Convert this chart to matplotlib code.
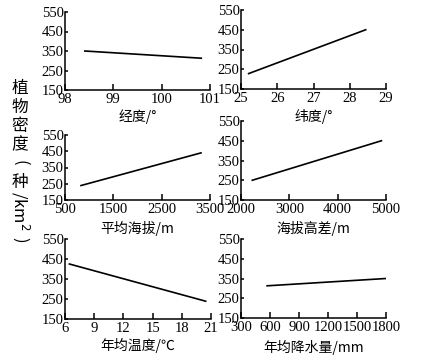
import matplotlib
matplotlib.use("Agg")
import matplotlib.pyplot as plt

W, H = 426, 357

plt.rcParams["font.family"] = ["Liberation Serif", "DejaVu Serif"]

# x/y of each fitted line (start, end)
lon_x = [98.41, 100.82]
lon_y = [350, 313]
lat_x = [25.21, 28.44]
lat_y = [228, 450]
alt_x = [831, 3314]
alt_y = [239, 440]
altdiff_x = [2234, 4905]
altdiff_y = [250, 450]
temp_x = [6.45, 20.45]
temp_y = [425, 239]
prec_x = [570, 1800]
prec_y = [313, 350]

y_ticks = [150, 250, 350, 450, 550]

panels = [
    # data x, data y, xticks, xlabel, box in pixels (left, right, top, bottom), label y px
    (lon_x, lon_y, [98, 99, 100, 101], "经度/°", (65, 210, 12, 90), 117),
    (lat_x, lat_y, [25, 26, 27, 28, 29], "纬度/°", (241, 386, 10, 89), 117),
    (alt_x, alt_y, [500, 1500, 2500, 3500], "平均海拔/m", (65, 210, 135, 200), 228),
    (altdiff_x, altdiff_y, [2000, 3000, 4000, 5000], "海拔高差/m", (241, 386, 121, 200), 228),
    (temp_x, temp_y, [6, 9, 12, 15, 18, 21], "年均温度/℃", (65, 211, 239, 319), 345),
    (prec_x, prec_y, [300, 600, 900, 1200, 1500, 1800], "年均降水量/mm", (241, 386, 239, 318), 347),
]

cjk = ["Noto Sans CJK SC", "DejaVu Sans"]

fig = plt.figure(figsize=(W / 100, H / 100), dpi=100)

for xs, ys, xt, xl, (l, r, t, b), ly in panels:
    ax = fig.add_axes([l / W, (H - b) / H, (r - l) / W, (b - t) / H])
    ax.plot(xs, ys, color="black", lw=1.2)
    ax.set_xlim(xt[0], xt[-1])
    ax.set_ylim(150, 550)
    ax.set_xticks(xt)
    ax.set_yticks(y_ticks)
    for s in ["top", "right"]:
        ax.spines[s].set_visible(False)
    for s in ["left", "bottom"]:
        ax.spines[s].set_linewidth(1.1)
    ax.tick_params(axis="x", direction="in", length=4, width=1.1, pad=2, labelsize=10.5)
    ax.tick_params(axis="y", direction="in", length=2.5, width=1.1, pad=1, labelsize=10.5)
    fig.text((l + r) / 2 / W, 1 - ly / H, xl, family=cjk, fontsize=10,
             ha="center", va="center")

# vertical y label, drawn piece by piece
yl_x = 20 / W
for txt, ypx, rot in [("植", 88, 0), ("物", 107, 0), ("密", 126, 0), ("度", 145, 0),
                      ("(", 163, -90), ("种", 182, 0), ("/km$^2$", 211, -90),
                      (")", 240, -90)]:
    fig.text(yl_x, 1 - ypx / H, txt, family=cjk, fontsize=12, rotation=rot,
             ha="center", va="center")

fig.savefig("out.png", dpi=100)
